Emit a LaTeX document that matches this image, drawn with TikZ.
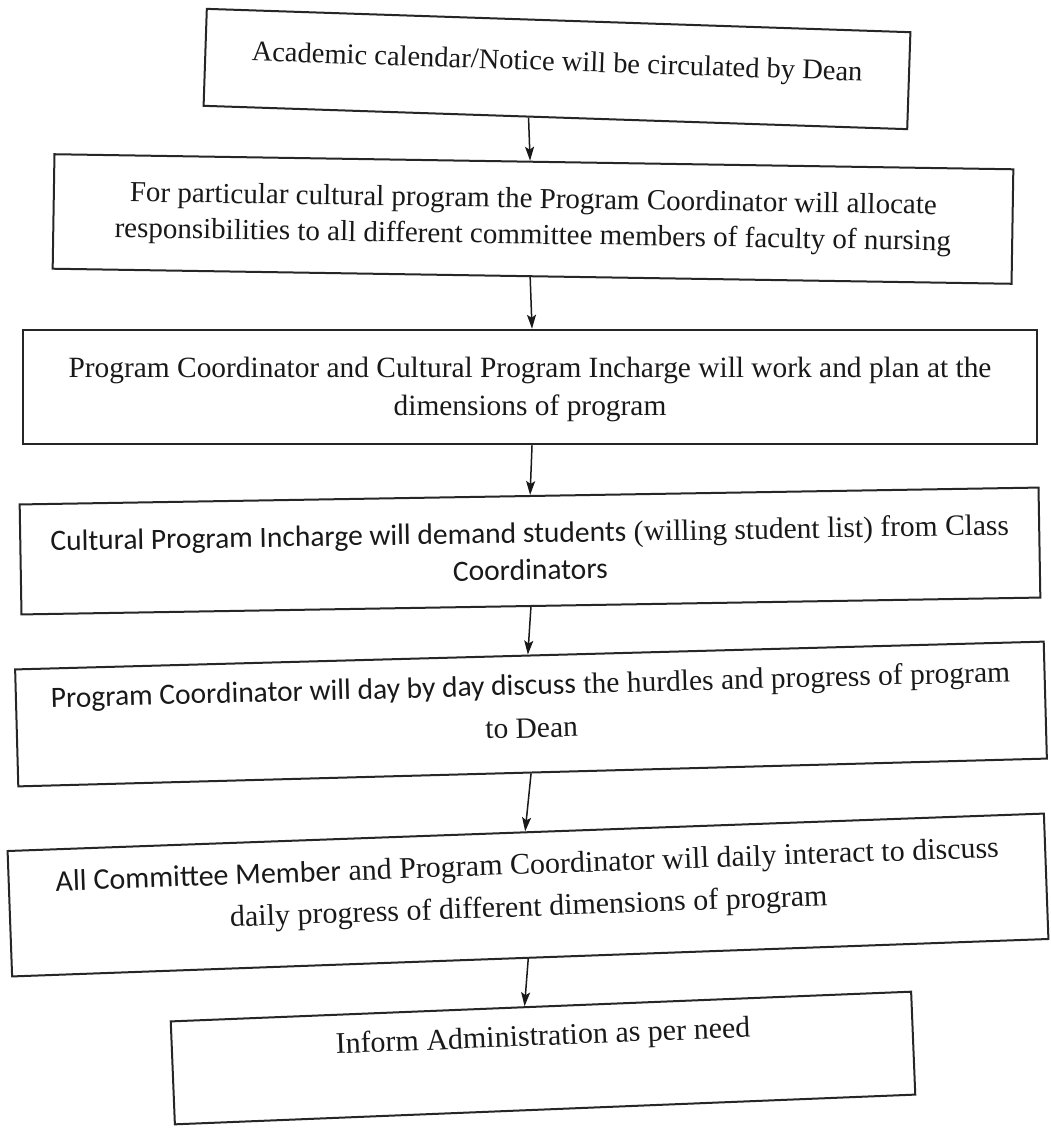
\documentclass[tikz,border=0pt]{standalone}
\usepackage{fontspec}
\setmainfont{Liberation Serif}
\newfontfamily\carl{Carlito}
\usetikzlibrary{calc,arrows.meta}
\begin{document}
\begin{tikzpicture}[x=1pt,y=1pt,
  box/.style={draw=black!85, line width=2pt, inner sep=0pt},
  txt/.style={align=center, inner sep=0pt, text=black!90},
  arr/.style={draw=black!90, line width=1.5pt, -{Stealth[length=14pt,width=9pt,inset=3pt]}}]
\fill[white] (0,0) rectangle (1050,-1130);
\useasboundingbox (0,0) rectangle (1050,-1130);

% boxes
\node[box, minimum width=704pt, minimum height=97pt, rotate=-1.9] (b1) at (557,-69) {};
\node[box, minimum width=959pt, minimum height=114.5pt, rotate=-0.9] (b2) at (533,-219) {};
\node[box, minimum width=1014pt, minimum height=114.5pt] (b3) at (530,-387) {};
\node[box, minimum width=1019pt, minimum height=110pt, rotate=0.95] (b4) at (530,-551) {};
\node[box, minimum width=1029pt, minimum height=117pt, rotate=1.55] (b5) at (531,-714) {};
\node[box, minimum width=1037pt, minimum height=125.5pt, rotate=2.07] (b6) at (528,-895) {};
\node[box, minimum width=741pt, minimum height=103pt, rotate=2.3] (b7) at (543,-1058) {};

% texts
\node[txt, rotate=-1.9, font=\fontsize{28.5}{34}\selectfont] (t1) at ([yshift=5pt]b1.center)
  {Academic calendar/Notice will be circulated by Dean};
\node[txt, rotate=-0.9, font=\fontsize{29}{36}\selectfont] (t2) at (b2.center)
  {For particular cultural program the Program Coordinator will allocate\\responsibilities to all different committee members of faculty of nursing};
\node[txt, font=\fontsize{29.4}{38}\selectfont] (t3) at ([yshift=-2pt]b3.center)
  {Program Coordinator and Cultural Program Incharge will work and plan at the\\dimensions of program};
\node[txt, rotate=0.95, font=\fontsize{29.5}{37}\selectfont] (t4) at (b4.center)
  {{\carl Cultural Program Incharge will demand students} (willing student list) from Class\\{\carl Coordinators}};
\node[txt, rotate=1.55, font=\fontsize{29.5}{43}\selectfont] (t5) at ([yshift=8pt]b5.center)
  {{\carl Program Coordinator will day by day discuss} the hurdles and progress of program\\to Dean};
\node[txt, rotate=2.07, font=\fontsize{30}{42}\selectfont] (t6) at ([yshift=7pt]b6.center)
  {{\carl All Committee Member} and Program Coordinator will daily interact to discuss\\daily progress of different dimensions of program};
\node[txt, rotate=2.3, font=\fontsize{30}{36}\selectfont] (t7) at ([yshift=20pt]b7.center)
  {Inform Administration as per need};

% arrows
\draw[arr] ($(b1.south west)!.462!(b1.south east)$) -- ($(b2.north west)!.496!(b2.north east)$);
\draw[arr] ($(b2.south west)!.498!(b2.south east)$) -- ($(b3.north west)!.502!(b3.north east)$);
\draw[arr] ($(b3.south west)!.502!(b3.south east)$) -- ($(b4.north west)!.501!(b4.north east)$);
\draw[arr] ($(b4.south west)!.5!(b4.south east)$) -- ($(b5.north west)!.4985!(b5.north east)$);
\draw[arr] ($(b5.south west)!.4985!(b5.south east)$) -- ($(b6.north west)!.4995!(b6.north east)$);
\draw[arr] ($(b6.south west)!.498!(b6.south east)$) -- ($(b7.north west)!.478!(b7.north east)$);
\end{tikzpicture}
\end{document}
